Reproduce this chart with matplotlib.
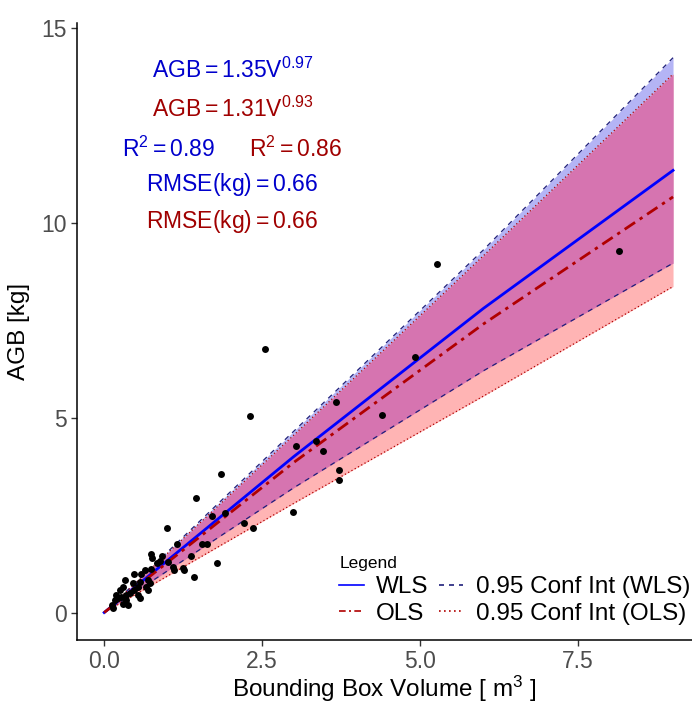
import numpy as np
import matplotlib
matplotlib.use("Agg")
import matplotlib.pyplot as plt
from matplotlib.lines import Line2D

plt.rcParams['font.family'] = ['Liberation Sans', 'DejaVu Sans']
plt.rcParams['mathtext.fontset'] = 'custom'
plt.rcParams['mathtext.rm'] = 'Liberation Sans'
plt.rcParams['mathtext.it'] = 'Liberation Sans:italic'
plt.rcParams['mathtext.bf'] = 'Liberation Sans:bold'

# observed trees: bounding box volume [m3] vs AGB [kg]
vol = [8.14, 5.27, 4.91, 2.54, 4.39, 2.31, 3.66, 1.85, 3.04, 3.35, 3.46, 3.72, 3.71,
       1.45, 2.99, 1.70, 1.91, 2.21, 2.36, 1.54, 1.63, 1.37, 0.99, 1.16, 1.79, 1.42,
       1.24, 1.26, 1.09, 1.10, 0.74, 0.76, 0.92, 0.83, 0.88, 1.01, 0.47, 0.58, 0.64,
       0.74, 0.69, 0.72, 0.66, 0.69, 0.56, 0.54, 0.46, 0.47, 0.41, 0.30, 0.25, 0.33,
       0.19, 0.17, 0.27, 0.35, 0.12, 0.14, 0.38, 0.35, 0.54, 0.56, 0.22, 0.30]
agb = [9.27, 8.94, 6.56, 6.76, 5.06, 5.05, 5.40, 3.56, 4.27, 4.41, 4.13, 3.66, 3.39,
       2.94, 2.58, 2.48, 2.56, 2.30, 2.18, 1.75, 1.75, 1.45, 2.18, 1.77, 1.28, 0.90,
       1.15, 1.09, 1.17, 1.09, 1.50, 1.41, 1.45, 1.28, 1.32, 1.30, 0.99, 1.00, 1.09,
       1.11, 0.83, 0.75, 0.66, 0.58, 0.79, 0.66, 0.75, 0.58, 0.50, 0.66, 0.58, 0.83,
       0.45, 0.32, 0.41, 0.45, 0.20, 0.11, 0.20, 0.32, 0.45, 0.37, 0.37, 0.22]

# fitted curves and 95% confidence bands
v_fit = [0, 3, 6, 9]
wls_fit = [0, 4.0, 7.8, 11.34]
ols_fit = [0, 3.85, 7.4, 10.66]
wls_hi = [0, 4.65, 9.3, 14.23]
wls_lo = [0, 3.2, 6.2, 8.96]
ols_hi = [0, 4.55, 9.15, 13.81]
ols_lo = [0, 2.8, 5.55, 8.36]

blue = '#0000FF'
red = '#B00000'
navy = '#1F1F7A'
txt_blue = '#0000CC'
txt_red = '#A00000'

fig = plt.figure(figsize=(6.92, 7.07), dpi=100)
ax = fig.add_axes([77 / 692, 67 / 707, 1 - 77 / 692, (640 - 23) / 707])

# bands: blue-only, red-only, and their overlap
ax.fill_between(v_fit, wls_lo, wls_hi, color='#B4B4F5', lw=0)
ax.fill_between(v_fit, ols_lo, ols_hi, color='#FFB4B4', lw=0)
ax.fill_between(v_fit, np.maximum(wls_lo, ols_lo), np.minimum(wls_hi, ols_hi),
                color='#D674B0', lw=0)
ax.plot(v_fit, wls_hi, color=navy, lw=0.9, ls=(0, (4, 4)))
ax.plot(v_fit, wls_lo, color=navy, lw=0.9, ls=(0, (4, 4)))
ax.plot(v_fit, ols_hi, color=red, lw=0.9, ls=(0, (1, 2)))
ax.plot(v_fit, ols_lo, color=red, lw=0.9, ls=(0, (1, 2)))
ax.plot(v_fit, wls_fit, color=blue, lw=2.0)
ax.plot(v_fit, ols_fit, color=red, lw=2.0, ls=(0, (4.5, 2, 1.2, 2)))
ax.scatter(vol, agb, s=25, color='black', zorder=5, linewidths=0)

ax.set_xlim(-0.43, 9.30)
ax.set_ylim(-0.705, 15.12)
ax.set_xticks([0, 2.5, 5, 7.5])
ax.set_xticklabels(['0.0', '2.5', '5.0', '7.5'])
ax.set_yticks([0, 5, 10, 15])
ax.tick_params(labelsize=16.5, labelcolor='#4D4D4D', color='#333333', length=4, width=1)
for s in ['top', 'right']:
    ax.spines[s].set_visible(False)
for s in ['left', 'bottom']:
    ax.spines[s].set_linewidth(1.1)

ax.set_xlabel('Bounding Box Volume [ m$^{3}$ ]', fontsize=17.5, labelpad=0)
ax.set_ylabel('AGB [kg]', fontsize=17.5, labelpad=8)

fs = 16.5
ax.text(2.03, 13.70, r'$\mathrm{AGB} = 1.35\mathrm{V}^{0.97}$', color=txt_blue, fontsize=fs, ha='center', va='baseline')
ax.text(2.03, 12.71, r'$\mathrm{AGB} = 1.31\mathrm{V}^{0.93}$', color=txt_red, fontsize=fs, ha='center', va='baseline')
ax.text(1.01, 11.69, r'$\mathrm{R}^{2} = 0.89$', color=txt_blue, fontsize=fs, ha='center', va='baseline')
ax.text(3.02, 11.69, r'$\mathrm{R}^{2} = 0.86$', color=txt_red, fontsize=fs, ha='center', va='baseline')
ax.text(2.03, 10.82, r'$\mathrm{RMSE(kg)} = 0.66$', color=txt_blue, fontsize=fs, ha='center', va='baseline')
ax.text(2.03, 9.85, r'$\mathrm{RMSE(kg)} = 0.66$', color=txt_red, fontsize=fs, ha='center', va='baseline')

handles = [Line2D([], [], color=blue, lw=1.2),
           Line2D([], [], color=red, lw=1.2, ls=(0, (4, 2, 1.2, 2))),
           Line2D([], [], color=navy, lw=1.2, ls=(0, (3, 3))),
           Line2D([], [], color=red, lw=1.2, ls=(0, (1, 2)))]
labels = ['WLS', 'OLS', '0.95 Conf Int (WLS)', '0.95 Conf Int (OLS)']
leg = ax.legend(handles, labels, ncol=2, title='Legend', fontsize=17.5, title_fontsize=12.5,
                frameon=False, loc='lower right', bbox_to_anchor=(690 / 692, 82 / 707),
                bbox_transform=fig.transFigure, borderpad=0, borderaxespad=0,
                handlelength=1.0, handletextpad=0.5, columnspacing=0.45, labelspacing=0.2,
                alignment='left')

fig.savefig('out.png', dpi=100)
